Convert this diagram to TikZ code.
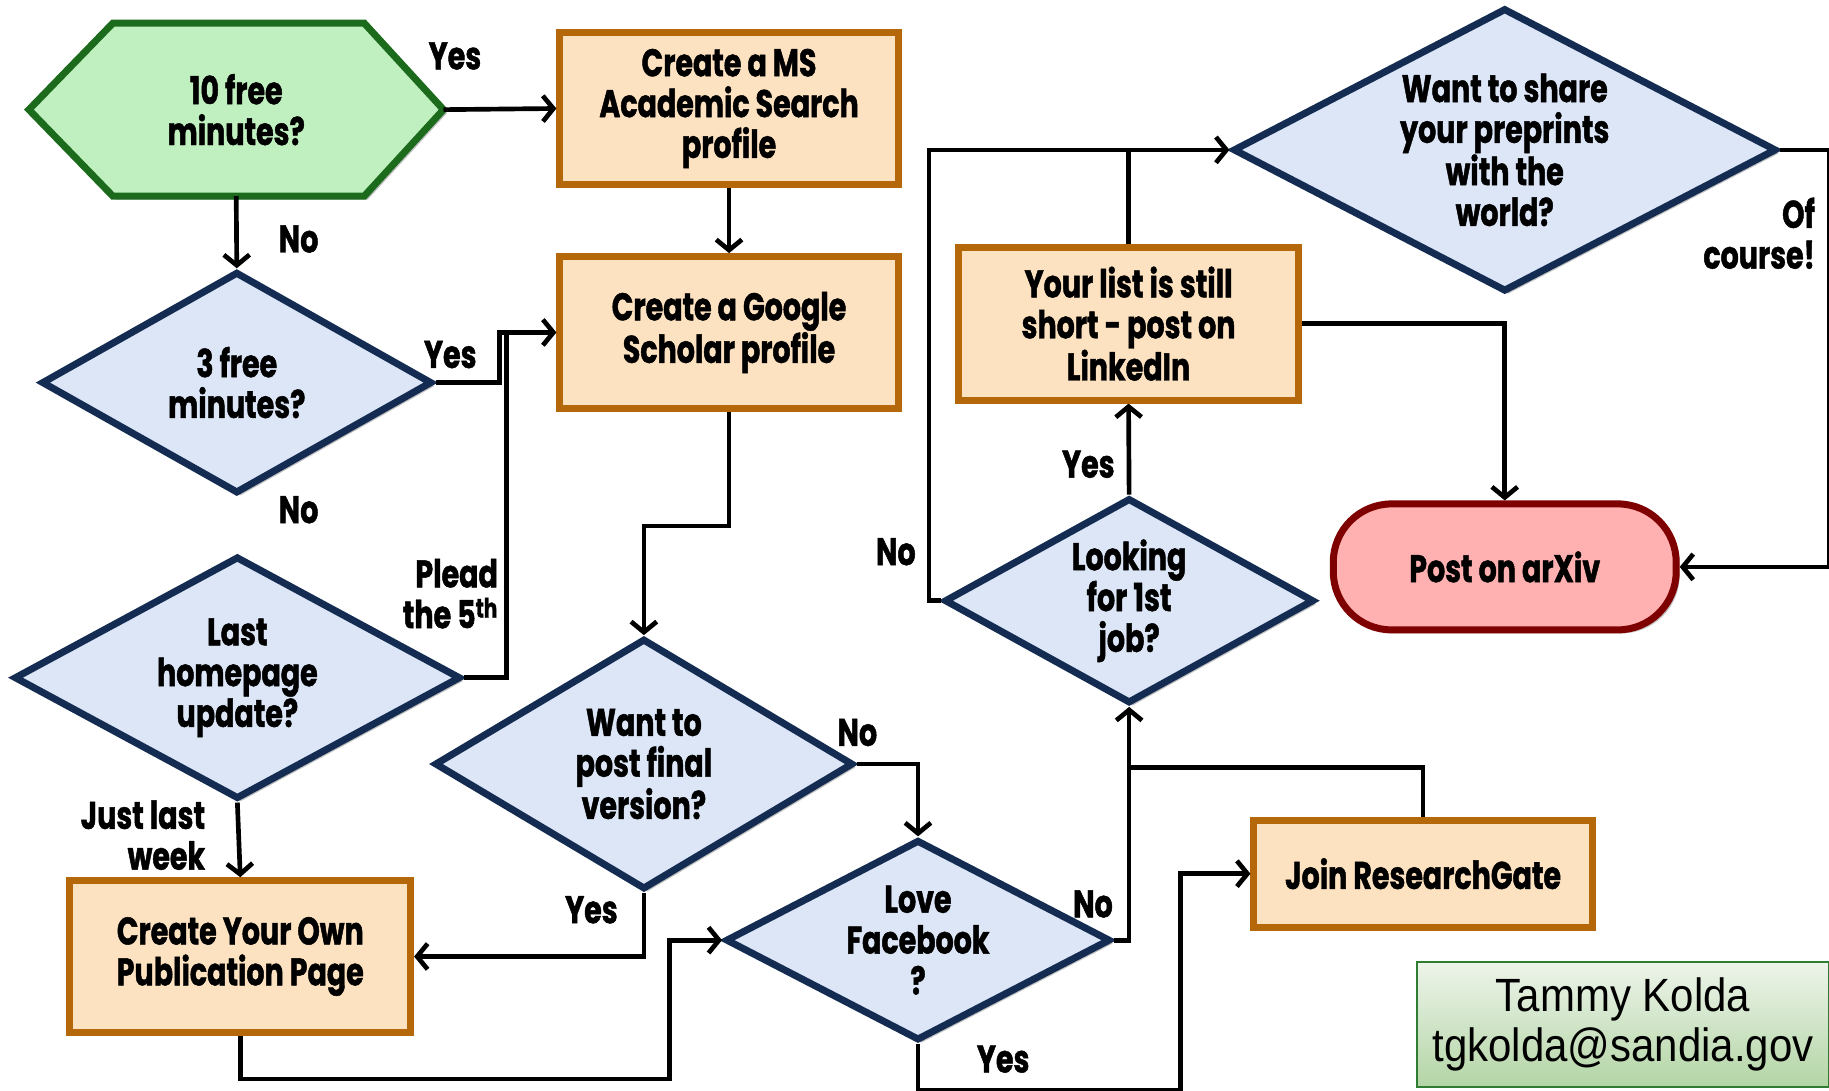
\documentclass[tikz,border=0pt]{standalone}
\usepackage{fontspec}
\usetikzlibrary{arrows.meta,shapes.geometric,shadows,calc}
\newfontfamily\flowfont{Poppins}[FakeStretch=0.74,BoldFeatures={FakeBold=1.2}]
\newfontfamily\authfont{Liberation Sans}[FakeStretch=0.9]
\newcommand\flowtxt{\flowfont\bfseries\fontsize{33}{35}\selectfont}
\definecolor{boxfill}{HTML}{FCE2C0}
\definecolor{boxborder}{HTML}{B5680A}
\definecolor{diafill}{HTML}{DCE6F6}
\definecolor{diaborder}{HTML}{142C52}
\definecolor{hexfill}{HTML}{C0F0C0}
\definecolor{hexborder}{HTML}{1C6B1C}
\definecolor{arxfill}{HTML}{FFB0B0}
\definecolor{arxborder}{HTML}{7F0000}
\definecolor{authtop}{HTML}{EDF4EA}
\definecolor{authbot}{HTML}{B3D5A5}
\definecolor{authborder}{HTML}{2E7D32}
\tikzset{
  shad/.style={drop shadow={shadow xshift=3pt,shadow yshift=-3pt,opacity=0.25,fill=black}},
  procbox/.style={rectangle,draw=boxborder,fill=boxfill,line width=6pt,align=center,font=\flowtxt,shad},
  dia/.style={diamond,draw=diaborder,fill=diafill,line width=6pt,inner sep=0pt,shad},
  txt/.style={font=\flowtxt,align=center,inner sep=0pt},
  conn/.style={line width=4pt,-{Straight Barb[length=9pt,width=22pt]}},
  plain/.style={line width=4pt},
}
\begin{document}
\begin{tikzpicture}[x=1pt,y=-1pt]
\useasboundingbox (0,0) rectangle (1568,935);
% hexagon start
\node[minimum width=355pt,minimum height=148pt,inner sep=0pt] (hex) at (202.5,94) {};
\draw[draw=hexborder,fill=hexfill,line width=6pt,shad] (hex.west) -- ([xshift=72pt]hex.north west) -- ([xshift=-68pt]hex.north east) -- (hex.east) -- ([xshift=-68pt]hex.south east) -- ([xshift=72pt]hex.south west) -- cycle;
\node[txt] (hexT) at (hex) {10 free\\minutes?};
% boxes
\node[procbox,minimum width=290pt,minimum height=130pt] (ms) at (625,93) {Create a MS\\Academic Search\\profile};
\node[procbox,minimum width=290pt,minimum height=130pt] (gs) at (625,285) {Create a Google\\Scholar profile};
\node[procbox,minimum width=292pt,minimum height=130pt] (pub) at (206,820) {Create Your Own\\Publication Page};
\node[procbox,minimum width=290pt,minimum height=92pt] (join) at (1220,749) {Join ResearchGate};
\node[procbox,minimum width=291pt,minimum height=131pt] (li) at (967.5,277.5) {Your list is still\\short - post on\\LinkedIn};
% diamonds
\node[dia,minimum width=335pt,minimum height=190pt,label={[txt]center:3 free\\minutes?}] (d3) at (203,328) {};
\node[dia,minimum width=383pt,minimum height=208pt,label={[txt]center:Last\\homepage\\update?}] (last) at (203.5,581) {};
\node[dia,minimum width=359pt,minimum height=215pt,label={[txt]center:Want to\\post final\\version?}] (post) at (552,655) {};
\node[dia,minimum width=330pt,minimum height=172pt,label={[txt]center:Love\\Facebook\\?}] (fb) at (787,806) {};
\node[dia,minimum width=317pt,minimum height=176pt,label={[txt]center:Looking\\for 1st\\job?}] (look) at (968,515) {};
\node[dia,minimum width=466pt,minimum height=243pt,label={[txt]center:Want to share\\your preprints\\with the\\world?}] (share) at (1290,128.5) {};
% arXiv
\node[rectangle,rounded corners=50pt,draw=arxborder,fill=arxfill,line width=6pt,minimum width=294pt,minimum height=108pt,font=\flowtxt,shad] (arxiv) at (1290,486) {Post on arXiv};
% author
\node[rectangle,draw=authborder,line width=1.5pt,top color=authtop,bottom color=authbot,minimum width=353pt,minimum height=107pt,align=center,font=\authfont\fontsize{40}{43}\selectfont] (auth) at (1391.5,878.5) {Tammy Kolda\\tgkolda@sandia.gov};
% connectors
\draw[conn] (hex.east) -- (ms.west);
\draw[conn] (hex.south) -- (d3.north);
\draw[conn] (ms.south) -- (gs.north);
\draw[conn] (d3.east) -- ++(55,0) |- (gs.west);
\draw[plain] (last.east) -| ($(gs.west)+(-43,0)$);
\draw[conn] (last.south) -- (pub.north);
\draw[conn] (gs.south) -- ++(0,98) -| (post.north);
\draw[conn] (post.south) |- (pub.east);
\draw[conn] (post.east) -| (fb.north);
\draw[conn] (pub.south) -- ++(0,37) -| ($(fb.west)+(-45,0)$) -- (fb.west);
\draw[conn] (fb.east) -| (look.south);
\draw[plain] (join.north) |- ($(look.south)+(0,52)$);
\draw[conn] (fb.south) -- ++(0,40) -| ($(join.west)+(-60,0)$) -- (join.west);
\draw[conn] (look.north) -- (li.south);
\draw[conn] (look.west) -- ++(-10,0) |- (share.west);
\draw[plain] (li.north) -- (li.north |- share.west);
\draw[conn] (li.east) -| (arxiv.north);
\draw[conn] (share.east) -- ++(42,0) |- (arxiv.east);
% labels
\node[txt] (l1) at (390,48) {Yes};
\node[txt] (l2) at (256,205) {No};
\node[txt] (l3) at (386,304) {Yes};
\node[txt] (l4) at (256,437) {No};
\node[txt,align=right,anchor=east] (l5) at (427,509) {Plead\\the 5\textsuperscript{th}};
\node[txt,align=right,anchor=east] (l6) at (176,716) {Just last\\week};
\node[txt] (l7) at (735,628) {No};
\node[txt] (l8) at (507,780) {Yes};
\node[txt] (l9) at (937,775) {No};
\node[txt] (l10) at (860,908) {Yes};
\node[txt] (l11) at (933,398) {Yes};
\node[txt] (l12) at (768,473) {No};
\node[txt,align=right,anchor=east] (l13) at (1556,200) {Of\\course!};
\end{tikzpicture}
\end{document}
